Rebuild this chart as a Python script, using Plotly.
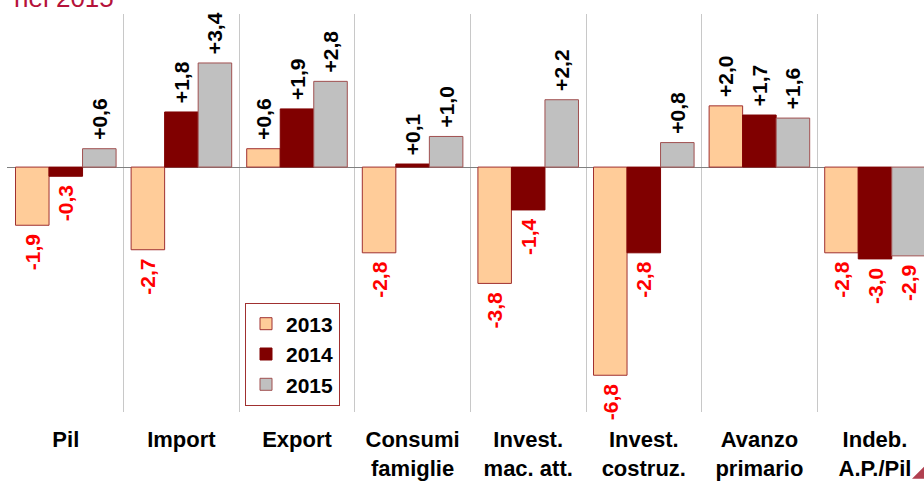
import plotly.graph_objects as go

categories = ["Pil", "Import", "Export", "Consumi<br>famiglie", "Invest.<br>mac. att.",
              "Invest.<br>costruz.", "Avanzo<br>primario", "Indeb.<br>A.P./Pil"]
series_names = ["2013", "2014", "2015"]
v2013 = [-1.9, -2.7, 0.6, -2.8, -3.8, -6.8, 2.0, -2.8]
v2014 = [-0.3, 1.8, 1.9, 0.1, -1.4, -2.8, 1.7, -3.0]
v2015 = [0.6, 3.4, 2.8, 1.0, 2.2, 0.8, 1.6, -2.9]
fills = ["#FFCC99", "#800000", "#C0C0C0"]
outlines = ["#A03030", "#800000", "#A05050"]

NB = "\u00a0"

def fmt(v):
    num = f"{abs(v):.1f}".replace(".", ",")
    if v > 0:
        return NB + "+" + num
    return "-" + num + NB

W, H = 924, 481
L, T, B = 7, 14, 67
PW, PH = W - L, H - T - B
CAT = 115.6  # pixels per category


def px(sx):
    return (sx - L) / PW


def py(sy):
    return (T + PH - sy) / PH


fig = go.Figure()
for name, vals, fc, lc in zip(series_names, [v2013, v2014, v2015], fills, outlines):
    fig.add_trace(go.Bar(
        x=categories, y=vals, name=name,
        marker=dict(color=fc, line=dict(color=lc, width=1)),
        text=[fmt(v) for v in vals],
        textposition="outside", textangle=-90,
        textfont=dict(family="Liberation Sans", size=21, weight="bold",
                      color=["#000000" if v > 0 else "#FF0000" for v in vals]),
        constraintext="none", cliponaxis=False,
    ))

x0 = -0.5 - 1 / CAT
fig.update_layout(
    width=W, height=H,
    margin=dict(l=L, r=0, t=T, b=B),
    paper_bgcolor="white", plot_bgcolor="white",
    barmode="group", bargap=0.13, bargroupgap=0,
    font=dict(family="Liberation Sans", size=20, color="black"),
    showlegend=True,
    legend=dict(x=px(245), y=py(304), xanchor="left", yanchor="top",
                bgcolor="white", bordercolor="#A03030", borderwidth=1,
                font=dict(family="Liberation Sans", size=21, weight="bold", color="black"),
                itemwidth=30, tracegroupgap=0),
    xaxis=dict(type="category", range=[x0, x0 + PW / CAT], tickson="boundaries",
               showgrid=True, gridcolor="#C8C8C8", gridwidth=1,
               ticks="", showline=False, zeroline=False,
               tickfont=dict(family="Liberation Sans", size=22, weight="bold", color="black"),
               ticklabelstandoff=12),
    yaxis=dict(range=[-8, 5], showgrid=False, showticklabels=False, ticks="",
               zeroline=True, zerolinecolor="#808080", zerolinewidth=1, showline=False),
    annotations=[dict(text="nel 2015", xref="paper", yref="paper", x=px(12), y=py(15),
                      xanchor="left", yanchor="bottom", showarrow=False,
                      font=dict(family="Liberation Sans", size=26, color="#B5123A"))],
    shapes=[dict(type="path", xref="paper", yref="paper",
                 path="M %f %f L %f %f L %f %f Z" % (px(912), py(481), px(924), py(469), px(924), py(481)),
                 fillcolor="#B04050", line=dict(width=0))],
)

fig.write_html("out.html", config={"displayModeBar": False},
               post_script="document.body.style.margin='0';document.body.style.overflow='hidden';")
